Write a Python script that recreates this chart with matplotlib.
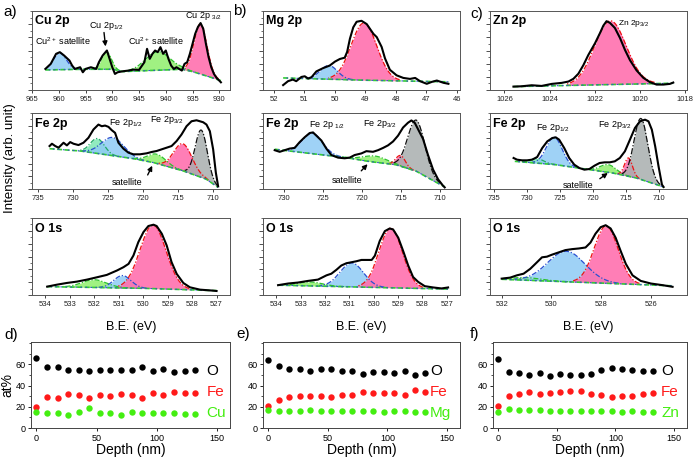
import numpy as np
import matplotlib
matplotlib.use("Agg")
import matplotlib.pyplot as plt
from matplotlib.ticker import MultipleLocator

plt.rcParams['font.family'] = ['Liberation Sans', 'DejaVu Sans']
plt.rcParams['mathtext.fontset'] = 'custom'
plt.rcParams['mathtext.rm'] = 'Liberation Sans'
plt.rcParams['mathtext.it'] = 'Liberation Sans:italic'
plt.rcParams['mathtext.bf'] = 'Liberation Sans:bold'

# ---------------- DATA ----------------
# Panel a, Cu 2p
cu_be = [962.5, 961.5, 960.5, 959.8, 959, 958, 957.5, 957, 956, 955.5, 955, 954, 953, 952.5, 951.8, 951, 950.5,
         950, 949.5, 949, 948, 947, 946, 945, 944, 943.5, 943, 942.5, 942, 941.5, 941, 940.5, 940, 939.5, 939,
         938.5, 938, 937, 936.5, 936, 935.5, 935, 934.5, 934, 933.5, 933, 932.5, 932, 931.5, 931, 930.5, 930, 929.7]
cu_int = [63, 78, 108, 113, 103, 88, 73, 63, 68, 53, 63, 68, 63, 83, 103, 118, 93,
          68, 48, 53, 56, 58, 61, 60, 83, 123, 93, 108, 118, 113, 128, 108, 118, 93, 73,
          63, 68, 58, 78, 83, 108, 138, 168, 188, 200, 183, 138, 98, 68, 48, 36, 28, 23]
cu_bg_be = [962.5, 955, 950, 948, 945, 940, 937, 935, 932, 929.7]
cu_bg_int = [60, 62, 62, 55, 57, 60, 62, 55, 40, 28]
cu_pk_center = [959.8, 951.1, 941.5, 933.5]
cu_pk_height = [50, 52, 55, 150]
cu_pk_sigma = [1.2, 0.9, 2.3, 1.2]

# Panel b, Mg 2p
mg_be = [51.70, 51.54, 51.38, 51.27, 51.10, 50.99, 50.88, 50.77, 50.61, 50.39, 50.17, 50.00, 49.84, 49.68, 49.60,
         49.51, 49.40, 49.29, 49.13, 48.96, 48.85, 48.74, 48.63, 48.47, 48.36, 48.20, 47.98, 47.76, 47.54, 47.37,
         47.21, 46.99, 46.82, 46.66, 46.44, 46.28]
mg_int = [15, 27, 32, 27, 40, 42, 35, 39, 57, 67, 75, 87, 95, 99, 117,
          157, 192, 209, 212, 202, 187, 172, 162, 132, 97, 62, 45, 37, 34, 37,
          27, 19, 25, 29, 22, 19]
mg_bg_be = [51.7, 49.0, 46.28]
mg_bg_int = [37, 30, 25]
mg_pk_center = [50.2, 49.05]
mg_pk_height = [42, 175]
mg_pk_sigma = [0.28, 0.42]

# Panel c, Zn 2p
zn_be = [1025.60, 1025.23, 1024.79, 1024.35, 1023.90, 1023.46, 1023.16, 1022.94, 1022.72, 1022.50, 1022.28,
         1021.98, 1021.76, 1021.61, 1021.47, 1021.32, 1021.10, 1020.87, 1020.65, 1020.43, 1020.14, 1019.84,
         1019.54, 1019.25, 1018.95, 1018.66, 1018.51]
zn_int = [10, 11, 14, 12, 18, 21, 25, 33, 48, 73, 103, 138, 168, 190, 203, 198, 183, 153, 118, 88, 58, 36,
          23, 16, 16, 18, 22]
zn_bg_be = [1025.6, 1018.51]
zn_bg_int = [10, 20]
zn_pk_center = [1021.3]
zn_pk_height = [188]
zn_pk_sigma = [0.7]

# Row 2, Fe 2p (a, b, c)
fea_be = [733.30, 732.96, 732.49, 732.02, 731.31, 730.83, 730.36, 729.89, 729.18, 728.47, 727.76, 727.05,
          726.34, 725.86, 725.39, 724.91, 724.44, 723.97, 723.49, 722.78, 722.07, 721.36, 720.42, 719.47,
          718.76, 718.05, 717.34, 716.63, 715.92, 715.21, 714.50, 713.79, 713.08, 712.37, 711.89, 711.42,
          710.95, 710.47, 710.00, 709.62, 709.29]
fea_int = [130, 137, 130, 125, 140, 132, 142, 137, 133, 140, 155, 180, 195, 190, 192, 188, 178, 170, 140,
           122, 110, 105, 105, 108, 112, 115, 120, 125, 130, 145, 165, 190, 205, 208, 205, 202, 195, 175,
           120, 50, 8]
fea_bg_be = [733.3, 728.9, 721.4, 718.5, 714.3, 711.0, 709.3]
fea_bg_int = [122, 115, 92, 80, 55, 30, 5]
fea_pk_center = [726.5, 724.3, 718.0, 714.3, 711.7]
fea_pk_height = [45, 55, 28, 82, 143]
fea_pk_sigma = [1.0, 1.6, 1.3, 1.3, 0.85]

feb_be = [731.15, 730.51, 729.87, 729.23, 728.59, 727.95, 727.31, 726.67, 726.24, 725.81, 725.17, 724.53,
          723.89, 723.03, 722.18, 721.54, 720.90, 720.04, 719.40, 718.55, 717.91, 717.26, 716.62, 715.98,
          715.34, 714.70, 714.06, 713.63, 713.21, 712.78, 712.14, 711.50, 710.85, 710.21, 709.57, 709.36]
feb_int = [120, 115, 120, 125, 127, 145, 160, 173, 175, 165, 150, 125, 105, 97, 95, 97, 105, 110, 117, 115,
           120, 127, 135, 147, 165, 190, 205, 212, 205, 185, 155, 105, 60, 30, 10, 5]
feb_bg_be = [731.15, 728.4, 722.0, 719.0, 715.6, 713.0, 710.4, 709.36]
feb_bg_int = [123, 115, 97, 85, 75, 55, 20, 7]
feb_pk_center = [726.3, 718.3, 715.0, 713.0]
feb_pk_height = [63, 19, 33, 158]
feb_pk_sigma = [1.3, 1.5, 0.6, 1.1]

fec_be = [732.08, 731.56, 730.79, 730.03, 729.26, 728.49, 727.72, 726.95, 726.18, 725.67, 725.15, 724.38,
          723.62, 722.85, 722.08, 721.31, 720.54, 719.77, 719.00, 718.23, 717.46, 716.69, 715.92, 715.15,
          714.38, 713.62, 712.85, 712.08, 711.56, 711.05, 710.54, 710.03, 709.51, 709.26]
fec_int = [93, 88, 86, 86, 88, 96, 123, 143, 153, 155, 148, 123, 93, 73, 63, 58, 60, 70, 78, 80, 80, 83, 93,
           113, 148, 183, 203, 208, 203, 178, 128, 68, 13, 6]
fec_bg_be = [731.9, 725.7, 720.5, 717.0, 713.4, 710.3, 709.26]
fec_bg_int = [83, 73, 58, 48, 33, 13, 6]
fec_pk_center = [728.5, 725.9, 717.7, 714.6, 712.7]
fec_pk_height = [14, 82, 23, 55, 183]
fec_pk_sigma = [1.0, 1.2, 1.2, 0.6, 1.05]

# Row 3, O 1s (a, b, c)
oa_be = [533.93, 533.52, 533.12, 532.71, 532.30, 531.89, 531.49, 531.08, 530.81, 530.60, 530.40, 530.20,
         529.99, 529.79, 529.58, 529.45, 529.24, 529.04, 528.84, 528.63, 528.36, 528.09, 527.68, 527.14, 527.00]
oa_int = [25, 31, 36, 40, 46, 53, 60, 73, 83, 93, 118, 158, 188, 206, 210, 206, 183, 148, 98, 63, 36, 23,
          16, 13, 12]
oa_bg_be = [533.93, 530.0, 527.0]
oa_bg_int = [25, 20, 13]
oa_pk_center = [532.0, 530.85, 529.6]
oa_pk_height = [23, 37, 190]
oa_pk_sigma = [0.5, 0.35, 0.53]

ob_be = [533.93, 533.52, 533.11, 532.70, 532.29, 531.94, 531.74, 531.53, 531.33, 531.12, 530.91, 530.71,
         530.50, 530.29, 530.08, 529.95, 529.75, 529.54, 529.34, 529.20, 528.99, 528.79, 528.58, 528.38,
         528.17, 527.90, 527.55, 527.21, 526.94]
ob_int = [30, 35, 38, 43, 47, 60, 65, 77, 90, 97, 100, 103, 107, 107, 107, 120, 165, 195, 203, 200, 175, 135,
          90, 55, 40, 27, 23, 20, 23]
ob_bg_be = [533.93, 526.94]
ob_bg_int = [30, 18]
ob_pk_center = [532.6, 530.9, 529.3]
ob_pk_height = [12, 73, 182]
ob_pk_sigma = [0.5, 0.48, 0.48]

oc_be = [532.00, 531.66, 531.39, 531.12, 530.85, 530.58, 530.38, 530.18, 529.98, 529.71, 529.44, 529.17,
         528.90, 528.63, 528.43, 528.23, 528.02, 527.82, 527.62, 527.42, 527.22, 527.01, 526.74, 526.41,
         526.00, 525.53, 525.13]
oc_int = [50, 53, 60, 65, 80, 100, 115, 117, 123, 130, 137, 140, 142, 145, 160, 187, 207, 213, 203, 175, 135,
          95, 60, 43, 35, 30, 25]
oc_bg_be = [532.0, 525.13]
oc_bg_int = [48, 28]
oc_pk_center = [531.0, 529.4, 527.8]
oc_pk_height = [8, 93, 175]
oc_pk_sigma = [0.6, 0.75, 0.48]

# Row 4, depth profiles
depth = [0, 8.8, 17.6, 26.4, 35.2, 44, 52.8, 61.6, 70.4, 79.2, 88, 96.8, 105.6, 114.4, 123.2, 132]
d_O = [65.7, 57, 57.8, 55, 54.3, 53.6, 55, 55, 55, 54.6, 57, 53.3, 55.5, 53, 54, 54.6]
d_Fe = [19.7, 28.9, 28.6, 32, 31.4, 28.3, 31, 30.5, 32, 30.8, 28.6, 33.3, 31.4, 34, 33, 32.7]
d_Cu = [15, 14.3, 13.7, 12.7, 14.6, 18.4, 14, 14, 12.7, 15.2, 14.3, 14, 13.7, 14, 13.3, 13.3]
e_O = [64, 58.4, 55.3, 56, 53.4, 55.3, 55.6, 53.8, 53.8, 51.3, 53, 53, 52, 53.8, 49.7, 52]
e_Fe = [20.3, 26.6, 29, 29.7, 30.3, 29.7, 29.4, 31, 31.3, 33.8, 32.5, 32.5, 33.4, 31.5, 36, 33.8]
e_Mg = [16.9, 16.2, 16.2, 16, 16.9, 16.2, 16.2, 16.2, 15.6, 16.2, 15.6, 15.3, 15.6, 16.2, 15.3, 15.3]
f_O = [65, 52.6, 51.4, 50, 51.4, 48.6, 50.5, 50, 50.2, 50.8, 54.8, 56.3, 55.4, 55, 54, 53.5]
f_Fe = [20.3, 30, 32, 33.8, 32.3, 33.2, 33.5, 34.8, 35, 32.3, 30.8, 29.5, 30, 30.5, 32.3, 33]
f_Zn = [15.4, 17.8, 17.2, 17.2, 17, 16.3, 16.3, 16.3, 16.3, 16.3, 16, 15.7, 15.4, 15.7, 15.4, 15.4]

# ---------------- STYLES ----------------
STY = {
    'blue': ('#8ecbf5', '#2a4fd0', 0.85),
    'cyan': ('#7ee8b4', '#22aa66', 0.85),
    'green': ('#90ef6c', '#2cc22c', 0.85),
    'pink': ('#ff70ae', '#ee1111', 0.9),
    'gray': ('#a8aeae', '#111111', 0.85),
}

W, H = 693, 459
fig = plt.figure(figsize=(W / 100, H / 100), dpi=100)


def add_ax(l, t, r, b):
    return fig.add_axes([l / W, 1 - b / H, (r - l) / W, (b - t) / H])


def style_spec_axes(ax, xlim, ylim, xticks):
    ax.set_xlim(*xlim)
    ax.set_ylim(*ylim)
    ax.set_xticks(xticks)
    ax.set_xticklabels([str(t) for t in xticks])
    ax.set_yticks(np.arange(ylim[0], ylim[1], ylim[1] / 6.0))
    ax.yaxis.set_minor_locator(MultipleLocator(ylim[1] / 12.0))
    ax.set_yticklabels([])
    ax.tick_params(axis='x', labelsize=5.5, length=2.5, width=0.6, pad=2, colors='#222222')
    ax.tick_params(axis='y', which='major', length=3, width=0.6, colors='#333333')
    ax.tick_params(axis='y', which='minor', length=1.6, width=0.5, colors='#333333')
    for s in ax.spines.values():
        s.set_linewidth(0.7)
        s.set_color('#555555')


def draw_spec(ax, be, inten, bg_be, bg_int, centers, heights, sigmas, kinds):
    be = np.asarray(be, float)
    inten = np.asarray(inten, float)
    grid = np.linspace(be.min(), be.max(), 800)
    order = np.argsort(bg_be)
    base = np.interp(grid, np.asarray(bg_be, float)[order], np.asarray(bg_int, float)[order])
    for c, h, s, k in zip(centers, heights, sigmas, kinds):
        fc, ec, a = STY[k]
        g = h * np.exp(-(grid - c) ** 2 / (2 * s * s))
        m = g > 0.02 * h
        ax.fill_between(grid[m], base[m], base[m] + g[m], color=fc, alpha=a, lw=0, zorder=2)
        ls = (0, (4, 1.5, 1, 1.5)) if k != 'gray' else (0, (5, 1.5, 1, 1.5))
        ax.plot(grid[m], base[m] + g[m], color=ec, lw=0.9, ls=ls, zorder=3)
    ax.plot(bg_be, bg_int, color='#33cc33', lw=1.2, ls=(0, (3, 1.5)), zorder=3)
    ax.plot(bg_be, bg_int, color='#3355cc', lw=0.8, ls=(1.5, (1.5, 3)), zorder=3)
    ax.plot(be, inten, color='k', lw=1.5, zorder=4)


cols = [(32, 230), (263, 460), (490, 687)]
rows = [(11, 90), (113, 189), (218, 295)]

# Row 1
ax = add_ax(cols[0][0], rows[0][0], cols[0][1], rows[0][1])
draw_spec(ax, cu_be, cu_int, cu_bg_be, cu_bg_int, cu_pk_center, cu_pk_height, cu_pk_sigma,
          ['blue', 'green', 'green', 'pink'])
style_spec_axes(ax, (965, 928), (0, 236), list(range(965, 929, -5)))
ax.text(0.015, 0.87, 'Cu 2p', transform=ax.transAxes, fontsize=9, fontweight='bold', va='center')
ax.text(964.4, 145, 'Cu$^{2+}$ satellite', fontsize=6.5, va='center')
ax.text(954.4, 190, 'Cu 2p$_{1/2}$', fontsize=6.5, va='center')
ax.annotate('', xy=(951.2, 122), xytext=(951.6, 180),
            arrowprops=dict(arrowstyle='-|>', color='k', lw=1.0, mutation_scale=7))
ax.text(947.0, 145, 'Cu$^{2+}$ satellite', fontsize=6.5, va='center')
ax.text(936.4, 220, 'Cu 2p $_{3/2}$', fontsize=6.5, va='center')

ax = add_ax(cols[1][0], rows[0][0], cols[1][1], rows[0][1])
draw_spec(ax, mg_be, mg_int, mg_bg_be, mg_bg_int, mg_pk_center, mg_pk_height, mg_pk_sigma,
          ['blue', 'pink'])
style_spec_axes(ax, (52.36, 45.9), (0, 242), [52, 51, 50, 49, 48, 47, 46])
ax.text(0.015, 0.87, 'Mg 2p', transform=ax.transAxes, fontsize=9, fontweight='bold', va='center')

ax = add_ax(cols[2][0], rows[0][0], cols[2][1], rows[0][1])
draw_spec(ax, zn_be, zn_int, zn_bg_be, zn_bg_int, zn_pk_center, zn_pk_height, zn_pk_sigma, ['pink'])
style_spec_axes(ax, (1026.64, 1017.9), (0, 233), [1026, 1024, 1022, 1020, 1018])
ax.text(0.015, 0.87, 'Zn 2p', transform=ax.transAxes, fontsize=9, fontweight='bold', va='center')
ax.text(1020.95, 196, 'Zn 2p$_{3/2}$', fontsize=6, va='center')

# Row 2 (Fe 2p)
ax = add_ax(cols[0][0], rows[1][0], cols[0][1], rows[1][1])
draw_spec(ax, fea_be, fea_int, fea_bg_be, fea_bg_int, fea_pk_center, fea_pk_height, fea_pk_sigma,
          ['cyan', 'blue', 'green', 'pink', 'gray'])
style_spec_axes(ax, (735.8, 707.6), (0, 230), [735, 730, 725, 720, 715, 710])
ax.text(0.015, 0.85, 'Fe 2p', transform=ax.transAxes, fontsize=9, fontweight='bold', va='center')
ax.text(724.9, 200, 'Fe 2p$_{1/2}$', fontsize=6.5, va='center')
ax.text(719.0, 208, 'Fe 2p$_{3/2}$', fontsize=6.5, va='center')
ax.text(724.4, 20, 'satellite', fontsize=6.5, va='center')
ax.annotate('', xy=(718.5, 78), xytext=(719.5, 35),
            arrowprops=dict(arrowstyle='-|>', color='k', lw=1.0, mutation_scale=7))

ax = add_ax(cols[1][0], rows[1][0], cols[1][1], rows[1][1])
draw_spec(ax, feb_be, feb_int, feb_bg_be, feb_bg_int, feb_pk_center, feb_pk_height, feb_pk_sigma,
          ['blue', 'green', 'pink', 'gray'])
style_spec_axes(ax, (732.65, 707.4), (0, 235), [730, 725, 720, 715, 710])
ax.text(0.015, 0.85, 'Fe 2p', transform=ax.transAxes, fontsize=9, fontweight='bold', va='center')
ax.text(726.7, 197, 'Fe 2p $_{1/2}$', fontsize=6.5, va='center')
ax.text(719.8, 200, 'Fe 2p$_{3/2}$', fontsize=6.5, va='center')
ax.text(723.9, 27, 'satellite', fontsize=6.5, va='center')
ax.annotate('', xy=(719.0, 83), xytext=(720.3, 50),
            arrowprops=dict(arrowstyle='-|>', color='k', lw=1.0, mutation_scale=7))

ax = add_ax(cols[2][0], rows[1][0], cols[2][1], rows[1][1])
draw_spec(ax, fec_be, fec_int, fec_bg_be, fec_bg_int, fec_pk_center, fec_pk_height, fec_pk_sigma,
          ['cyan', 'blue', 'green', 'pink', 'gray'])
style_spec_axes(ax, (735.67, 705.7), (0, 228), [735, 730, 725, 720, 715, 710])
ax.text(0.015, 0.85, 'Fe 2p', transform=ax.transAxes, fontsize=9, fontweight='bold', va='center')
ax.text(728.7, 183, 'Fe 2p$_{1/2}$', fontsize=6.5, va='center')
ax.text(719.3, 193, 'Fe 2p$_{3/2}$', fontsize=6.5, va='center')
ax.text(724.6, 9, 'satellite', fontsize=6.5, va='center')
ax.annotate('', xy=(717.4, 53), xytext=(719.3, 26),
            arrowprops=dict(arrowstyle='-|>', color='k', lw=1.0, mutation_scale=7))

# Row 3 (O 1s)
ax = add_ax(cols[0][0], rows[2][0], cols[0][1], rows[2][1])
draw_spec(ax, oa_be, oa_int, oa_bg_be, oa_bg_int, oa_pk_center, oa_pk_height, oa_pk_sigma,
          ['green', 'blue', 'pink'])
style_spec_axes(ax, (534.55, 526.45), (0, 230), [534, 533, 532, 531, 530, 529, 528, 527])
ax.text(0.015, 0.86, 'O 1s', transform=ax.transAxes, fontsize=9, fontweight='bold', va='center')
ax.set_xlabel('B.E. (eV)', fontsize=9, labelpad=9)

ax = add_ax(cols[1][0], rows[2][0], cols[1][1], rows[2][1])
draw_spec(ax, ob_be, ob_int, ob_bg_be, ob_bg_int, ob_pk_center, ob_pk_height, ob_pk_sigma,
          ['green', 'blue', 'pink'])
style_spec_axes(ax, (534.55, 526.45), (0, 235), [534, 533, 532, 531, 530, 529, 528, 527])
ax.text(0.015, 0.86, 'O 1s', transform=ax.transAxes, fontsize=9, fontweight='bold', va='center')
ax.set_xlabel('B.E. (eV)', fontsize=9, labelpad=9)

ax = add_ax(cols[2][0], rows[2][0], cols[2][1], rows[2][1])
draw_spec(ax, oc_be, oc_int, oc_bg_be, oc_bg_int, oc_pk_center, oc_pk_height, oc_pk_sigma,
          ['green', 'blue', 'pink'])
style_spec_axes(ax, (532.47, 524.55), (0, 235), [532, 530, 528, 526])
ax.text(0.015, 0.86, 'O 1s', transform=ax.transAxes, fontsize=9, fontweight='bold', va='center')
ax.set_xlabel('B.E. (eV)', fontsize=9, labelpad=9)

# Row 4 (depth profiles)
dcols = [(31, 230), (263, 460), (493, 687)]
sets = [(d_O, d_Fe, d_Cu, 'Cu'), (e_O, e_Fe, e_Mg, 'Mg'), (f_O, f_Fe, f_Zn, 'Zn')]
lbl_x = [141.5, 136, 139]
for i, ((oo, ff, mm, name), (l, r)) in enumerate(zip(sets, dcols)):
    ax = add_ax(l, 342, r, 428)
    ax.plot(depth, oo, 'o', color='black', ms=4.6, mec='none')
    ax.plot(depth, ff, 'o', color='#ff1a1a', ms=4.6, mec='none')
    ax.plot(depth, mm, 'o', color='#44ee11', ms=4.6, mec='none')
    ax.set_xlim(-4.5, 161)
    ax.set_ylim(0, 81)
    ax.set_xticks([0, 50, 100, 150])
    ax.set_yticks([0, 20, 40, 60])
    ax.yaxis.set_minor_locator(MultipleLocator(10))
    ax.tick_params(axis='both', labelsize=6.5, length=2.5, width=0.6, pad=1.5)
    ax.tick_params(axis='y', which='minor', length=1.5, width=0.5)
    for s in ax.spines.values():
        s.set_linewidth(0.7)
        s.set_color('#444444')
    ax.text(lbl_x[i], 54, 'O', color='black', fontsize=11, va='center')
    ax.text(lbl_x[i], 33.5, 'Fe', color='#ff1a1a', fontsize=11, va='center')
    ax.text(lbl_x[i], 14, name, color='#44ee11', fontsize=11, va='center')
    ax.set_xlabel('Depth (nm)', fontsize=10, labelpad=0.5)
    if i == 0:
        ax.set_ylabel('at%', fontsize=10, labelpad=1)

# Figure-level labels
fig.text(10 / W, 1 - 158 / H, 'Intensity (arb. unit)', rotation=90, fontsize=9.5, ha='center', va='center')
for txt, x, y in [('a)', 3, 12), ('b)', 233, 11), ('c)', 470, 14), ('d)', 4, 335), ('e)', 236, 334), ('f)', 470, 334)]:
    fig.text(x / W, 1 - y / H, txt, fontsize=11, ha='left', va='center')

fig.savefig('out.png', dpi=100)
